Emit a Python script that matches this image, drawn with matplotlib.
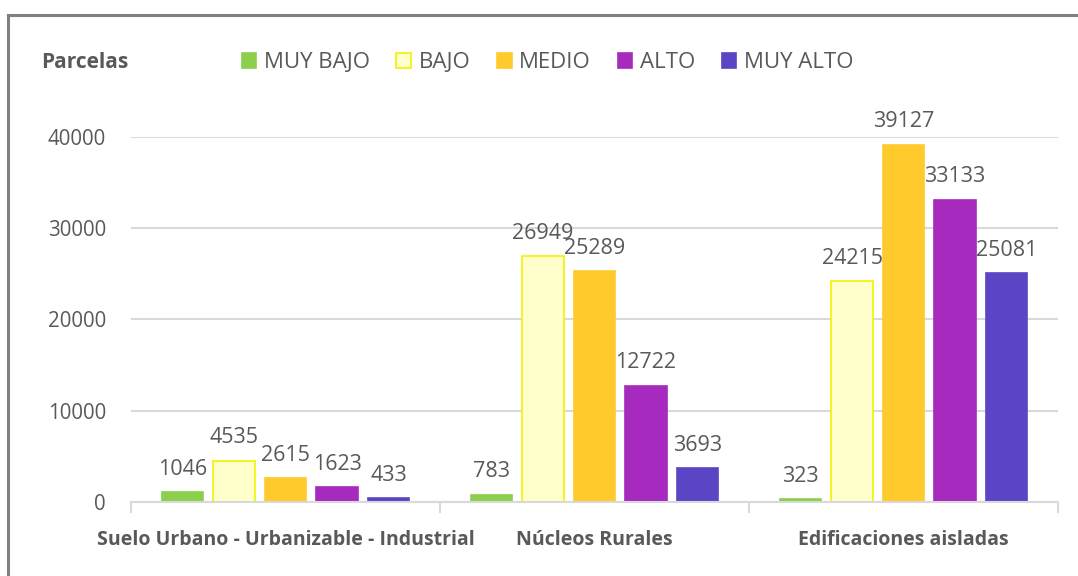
import numpy as np
import matplotlib.pyplot as plt
from matplotlib.lines import Line2D
from matplotlib.patches import Patch

# parcel counts per zone type and risk level
categories = ["Suelo Urbano - Urbanizable - Industrial", "Núcleos Rurales", "Edificaciones aisladas"]
levels = ["MUY BAJO", "BAJO", "MEDIO", "ALTO", "MUY ALTO"]
muy_bajo = [1046, 783, 323]
bajo = [4535, 26949, 24215]
medio = [2615, 25289, 39127]
alto = [1623, 12722, 33133]
muy_alto = [433, 3693, 25081]
yticks = [0, 10000, 20000, 30000, 40000]

series = [muy_bajo, bajo, medio, alto, muy_alto]
face = ["#8ccf4d", "#ffffcc", "#ffca2c", "#a52abd", "#5b45c4"]
edge = ["#8ccf4d", "#f2f200", "#ffca2c", "#a52abd", "#5b45c4"]

grey = "#595959"
plt.rcParams["font.family"] = ["Open Sans", "DejaVu Sans"]

fig = plt.figure(figsize=(10.78, 5.76), dpi=100)
ax = fig.add_axes([0.1215, 0.1285, 0.8600, 0.6337])

x = np.arange(len(categories))
slot = 1 / 6
width = 0.8 / 6
for i, (vals, fc, ec) in enumerate(zip(series, face, edge)):
    pos = x + (i - 2) * slot
    ax.bar(pos, vals, width, color=fc, edgecolor=ec, linewidth=1.2, label=levels[i], zorder=3)
    for xp, v in zip(pos, vals):
        ax.annotate(str(v), (xp, v), xytext=(0, 9), textcoords="offset points",
                    ha="center", va="bottom", fontsize=15.5, color=grey, clip_on=False)

ax.set_xlim(-0.5, len(categories) - 0.5)
ax.set_ylim(0, 40000)
ax.set_yticks(yticks)
ax.set_yticklabels([str(t) for t in yticks], fontsize=14.8, color=grey)
ax.tick_params(axis="y", length=0, pad=18)
ax.yaxis.grid(True, color="#d9d9d9", linewidth=1.5, zorder=0)

# category names centred, tick marks at the group boundaries
ax.set_xticks(np.arange(-0.5, len(categories)), minor=False)
ax.set_xticklabels([])
ax.tick_params(axis="x", length=8, width=1.5, color="#d9d9d9", direction="out")
ax.set_xticks(x, minor=True)
ax.set_xticklabels(categories, minor=True, fontsize=14, fontweight="bold", color=grey)
ax.tick_params(axis="x", which="minor", length=0, pad=20)

for s in ["top", "right", "left"]:
    ax.spines[s].set_visible(False)
ax.spines["bottom"].set_color("#d9d9d9")
ax.spines["bottom"].set_linewidth(1.5)
ax.spines["bottom"].set_zorder(4)

fig.text(0.038, 0.892, "Parcelas", fontsize=15, fontweight="bold", color=grey, va="center")

handles = [Patch(facecolor=fc, edgecolor=ec, linewidth=1.2) for fc, ec in zip(face, edge)]
fig.legend(handles, levels, loc="center", bbox_to_anchor=(0.508, 0.891), ncol=5, frameon=False,
           handlelength=0.65, handleheight=0.65, handletextpad=0.35, columnspacing=1.2,
           prop={"size": 16}, labelcolor=grey)

# frame lines along the top and left edges
fig.add_artist(Line2D([0.0075, 1.0], [0.974, 0.974], color="#808080", linewidth=2.2))
fig.add_artist(Line2D([0.0075, 0.0075], [0.0, 0.974], color="#808080", linewidth=2.2))

fig.savefig("out.png", dpi=100, facecolor="white")
